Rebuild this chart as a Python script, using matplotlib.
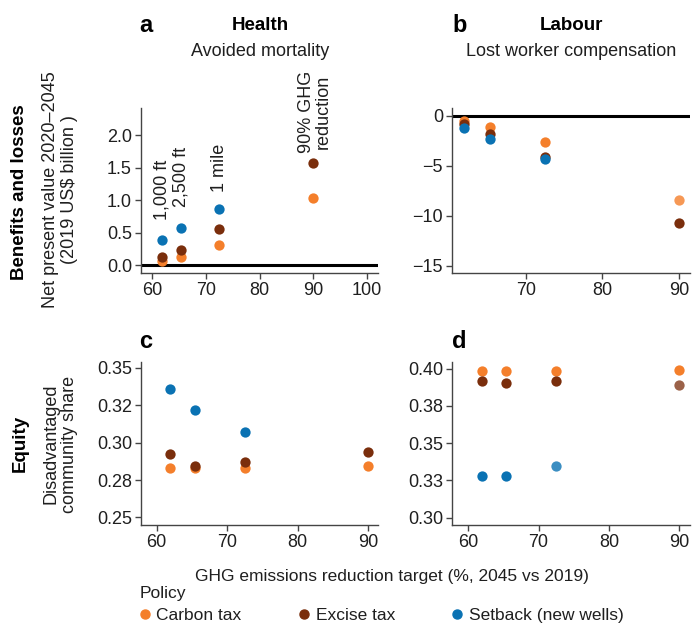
import matplotlib
matplotlib.use("Agg")
import matplotlib.pyplot as plt
from matplotlib.lines import Line2D

plt.rcParams['font.family'] = ['Liberation Sans', 'DejaVu Sans']

# ---------------- data ----------------
targets = [61.9, 65.4, 72.5, 90.0]
policies = ["Carbon tax", "Excise tax", "Setback (new wells)"]
colors = {"Carbon tax": "#F47F2B", "Excise tax": "#7A2E0C", "Setback (new wells)": "#0A72B3"}

health_carbon = [0.07, 0.13, 0.31, 1.04]
health_excise = [0.12, 0.24, 0.55, 1.57]
health_setback = [0.39, 0.57, 0.86]

labour_carbon = [-0.5, -1.13, -2.63, -8.43]
labour_excise = [-0.83, -1.87, -4.1, -10.7]
labour_setback = [-1.23, -2.33, -4.33]

equity_c_carbon = [0.2828, 0.2832, 0.2832, 0.2845]
equity_c_excise = [0.2921, 0.2845, 0.2870, 0.2935]
equity_c_setback = [0.3356, 0.3222, 0.3072]

equity_d_carbon = [0.3982, 0.3982, 0.3982, 0.3989]
equity_d_excise = [0.3915, 0.3906, 0.3915, 0.3888]
equity_d_setback = [0.3281, 0.3281, 0.3348]

setback_labels = ["1,000 ft", "2,500 ft", "1 mile"]
ghg_label = "90% GHG\nreduction"

ticks_c = [0.25, 0.275, 0.30, 0.325, 0.35]
ticklabels_c = ["0.25", "0.28", "0.30", "0.32", "0.35"]
ticks_d = [0.30, 0.325, 0.35, 0.375, 0.40]
ticklabels_d = ["0.30", "0.33", "0.35", "0.38", "0.40"]

# ---------------- figure ----------------
W, H = 692, 625
fig = plt.figure(figsize=(W / 100, H / 100), dpi=100)

def box(l, r, t, b):
    return [l / W, 1 - b / H, (r - l) / W, (b - t) / H]

ax_a = fig.add_axes(box(141, 378, 108, 273))
ax_b = fig.add_axes(box(452, 690, 108, 273))
ax_c = fig.add_axes(box(141, 378, 362, 525))
ax_d = fig.add_axes(box(452, 690, 362, 525))

FS = 13
FS2 = 12.5
TXT = "#1f1f1f"
spine_col = "#444444"
for ax in (ax_a, ax_b, ax_c, ax_d):
    for s in ("top", "right"):
        ax.spines[s].set_visible(False)
    for s in ("left", "bottom"):
        ax.spines[s].set_color(spine_col)
        ax.spines[s].set_linewidth(1.0)
    ax.tick_params(direction="out", length=4, width=1.0, color=spine_col,
                   labelsize=FS, labelcolor=TXT, pad=2.5)

MS = 55
def scatter_series(ax, carbon, excise, setback, alphas=None):
    alphas = alphas or {}
    for name, vals in (("Carbon tax", carbon), ("Excise tax", excise), ("Setback (new wells)", setback)):
        al = alphas.get(name, [1.0] * len(vals))
        for x, y, a in zip(targets[:len(vals)], vals, al):
            ax.scatter([x], [y], s=MS, color=colors[name], alpha=a, linewidths=0, zorder=3)

# a
ax_a.axhline(0, color="black", lw=2.2, zorder=2)
scatter_series(ax_a, health_carbon, health_excise, health_setback)
ax_a.set_xlim(58, 102)
ax_a.set_ylim(-0.12, 2.42)
ax_a.set_xticks([60, 70, 80, 90, 100])
ax_a.set_yticks([0.0, 0.5, 1.0, 1.5, 2.0])
ax_a.set_yticklabels(["0.0", "0.5", "1.0", "1.5", "2.0"])
label_y = [0.69, 0.89, 1.12]
for x, y, t in zip(targets[:3], label_y, setback_labels):
    ax_a.text(x, y, t, rotation=90, ha="center", va="bottom", fontsize=FS, color=TXT)
ax_a.text(targets[3] + 0.3, 1.72, ghg_label, rotation=90, ha="center", va="bottom",
          fontsize=FS, color=TXT, clip_on=False, linespacing=0.95)

# b
ax_b.axhline(0, color="black", lw=2.2, zorder=2)
scatter_series(ax_b, labour_carbon, labour_excise, labour_setback,
               alphas={"Carbon tax": [1, 1, 1, 0.8]})
ax_b.set_xlim(60.4, 91.4)
ax_b.set_ylim(-15.75, 0.77)
ax_b.set_xticks([70, 80, 90])
ax_b.set_yticks([0, -5, -10, -15])
ax_b.set_yticklabels(["0", "\u22125", "\u221210", "\u221215"])

# c
scatter_series(ax_c, equity_c_carbon, equity_c_excise, equity_c_setback)
ax_c.set_xlim(57.8, 91.4)
ax_c.set_ylim(0.2449, 0.354)
ax_c.set_xticks([60, 70, 80, 90])
ax_c.set_yticks(ticks_c)
ax_c.set_yticklabels(ticklabels_c)

# d
scatter_series(ax_d, equity_d_carbon, equity_d_excise, equity_d_setback,
               alphas={"Excise tax": [1, 1, 1, 0.75], "Setback (new wells)": [1, 1, 0.8]})
ax_d.set_xlim(57.7, 91.5)
ax_d.set_ylim(0.2951, 0.4044)
ax_d.set_xticks([60, 70, 80, 90])
ax_d.set_yticks(ticks_d)
ax_d.set_yticklabels(ticklabels_d)

# ---------------- texts ----------------
def ftext(x, y, s, **kw):
    fig.text(x / W, 1 - y / H, s, **kw)

for (x, y, s) in ((139, 25, "a"), (452, 25, "b"), (139, 341, "c"), (452, 341, "d")):
    ftext(x, y, s, fontsize=17, fontweight="bold", ha="left", va="center")

ftext(260, 25, "Health", fontsize=13.5, fontweight="bold", ha="center", va="center")
ftext(260, 52, "Avoided mortality", fontsize=FS, ha="center", va="center", color=TXT)
ftext(571, 25, "Labour", fontsize=13.5, fontweight="bold", ha="center", va="center")
ftext(571, 52, "Lost worker compensation", fontsize=FS, ha="center", va="center", color=TXT)

ftext(20, 192, "Benefits and losses", fontsize=13.5, fontweight="bold", rotation=90,
      ha="center", va="center")
ftext(60, 190, "Net present value 2020\u20132045\n(2019 US$ billion )", fontsize=FS, rotation=90,
      ha="center", va="center", color=TXT, linespacing=1.12)
ftext(20, 443, "Equity", fontsize=13.5, fontweight="bold", rotation=90,
      ha="center", va="center")
ftext(60, 444, "Disadvantaged\ncommunity share", fontsize=FS, rotation=90,
      ha="center", va="center", color=TXT, linespacing=1.12)

ftext(392, 576, "GHG emissions reduction target (%, 2045 vs 2019)", fontsize=FS2,
      ha="center", va="center", color=TXT)

handles = [Line2D([], [], marker="o", ls="", color=colors[p], markersize=6.5) for p in policies]
leg = fig.legend(handles, policies, loc="upper left", bbox_to_anchor=(140 / W, 1 - 586 / H),
                 ncol=3, title="Policy", frameon=False, fontsize=FS2, title_fontsize=FS2,
                 alignment="left", handlelength=0.6, handletextpad=0.35, columnspacing=3.3,
                 borderpad=0, labelspacing=0.3, borderaxespad=0)
for t in leg.get_texts():
    t.set_color(TXT)
leg.get_title().set_color(TXT)
leg._legend_box.sep = 5

fig.savefig("out.png", dpi=100)
